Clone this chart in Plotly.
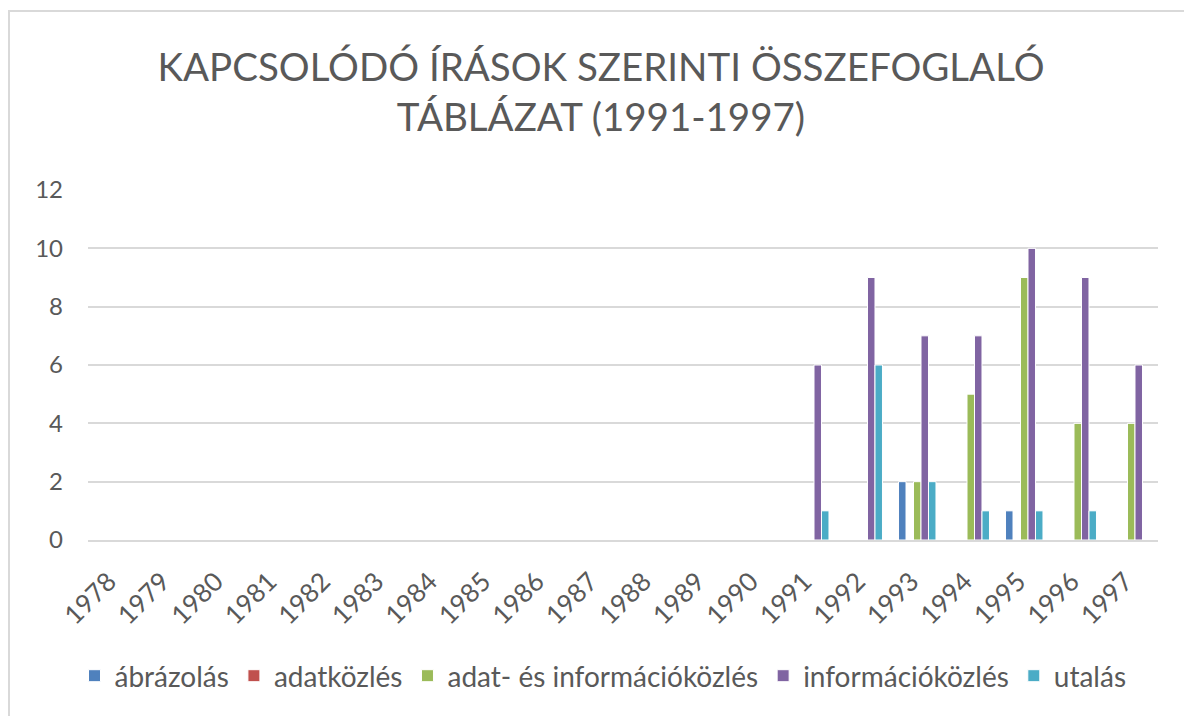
import plotly.graph_objects as go

years = [str(y) for y in range(1978, 1998)]
series_names = ["ábrázolás", "adatközlés", "adat- és információközlés", "információközlés", "utalás"]
colors = ["#4F81BD", "#C0504D", "#9BBB59", "#8064A2", "#4BACC6"]

# values for 1978..1997 (None = no entry)
abrazolas = [None]*13 + [None, None, 2, None, 1, None, None]
adatkozles = [None]*13 + [None, None, None, None, None, None, None]
adat_info = [None]*13 + [None, None, 2, 5, 9, 4, 4]
informacio = [None]*13 + [6, 9, 7, 7, 10, 9, 6]
utalas = [None]*13 + [1, 6, 2, 1, 1, 1, None]

values = [abrazolas, adatkozles, adat_info, informacio, utalas]

W, H = 1192, 716
OFF = 8  # page body offset
plot_left, plot_right, plot_top, plot_bottom = 88 - OFF, 1158 - OFF, 190 - OFF, 540 - OFF
L, R, T, B = plot_left, W - plot_right, plot_top, H - plot_bottom
pw, ph = plot_right - plot_left, plot_bottom - plot_top

def px_x(p):
    return (p - OFF - plot_left) / pw

def px_y(p):
    return (plot_bottom - (p - OFF)) / ph

font_family = "Lato, Liberation Sans, sans-serif"
text_color = "#595959"

fig = go.Figure()
for name, vals, col in zip(series_names, values, colors):
    fig.add_trace(go.Bar(
        x=years, y=vals, name=name,
        marker=dict(color=col, line=dict(color="white", width=1)),
    ))

fig.update_layout(
    width=W, height=H,
    margin=dict(l=L, r=R, t=T, b=B, autoexpand=False),
    paper_bgcolor="white", plot_bgcolor="white",
    barmode="group", bargap=0.3, bargroupgap=0,
    font=dict(family=font_family, color=text_color, size=24),
    title=dict(
        text="KAPCSOLÓDÓ ÍRÁSOK SZERINTI ÖSSZEFOGLALÓ<br>TÁBLÁZAT (1991-1997)",
        x=(601 - OFF) / W, xanchor="center", y=1 - (81 - OFF) / H, yanchor="middle",
        font=dict(size=38.5, color=text_color, family=font_family),
    ),
    xaxis=dict(
        type="category", tickangle=-45, showgrid=False,
        showline=True, linecolor="#D9D9D9", linewidth=2,
        ticks="", ticklabelstandoff=14, ticklabelshift=-6,
        tickfont=dict(size=26, color=text_color),
    ),
    yaxis=dict(
        range=[0, 12], dtick=2, showgrid=True, gridcolor="#D9D9D9", gridwidth=2,
        zeroline=False, showline=False, ticks="", ticklen=0,
        ticklabelstandoff=24,
        tickfont=dict(size=24, color=text_color),
    ),
    legend=dict(
        orientation="h", x=px_x(603), xanchor="center", y=px_y(676), yanchor="middle",
        font=dict(size=28, color=text_color), itemwidth=30, traceorder="normal",
    ),
    shapes=[dict(
        type="rect", xref="paper", yref="paper",
        x0=px_x(9), x1=px_x(1220), y0=px_y(740), y1=px_y(11),
        line=dict(color="#D9D9D9", width=2), fillcolor="rgba(0,0,0,0)", layer="below",
    )],
)

fig.write_html("out.html")
